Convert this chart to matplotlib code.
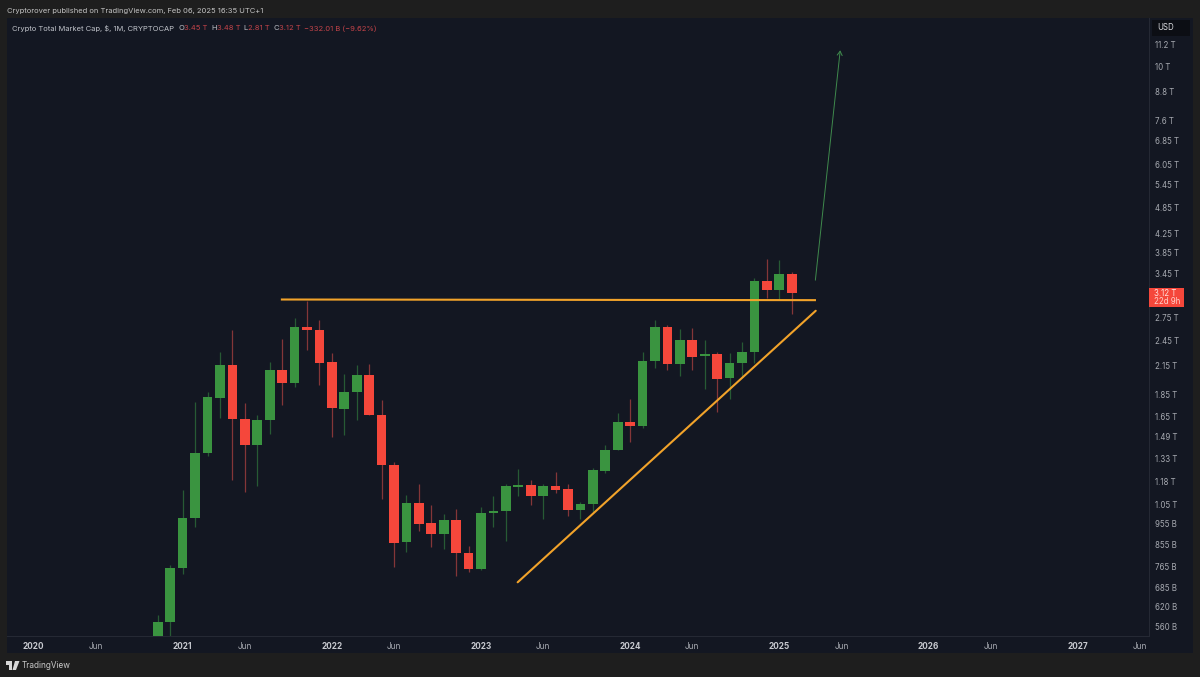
import matplotlib
matplotlib.use("Agg")
import matplotlib.pyplot as plt
from matplotlib.patches import Rectangle, Polygon

plt.rcParams['font.family'] = ['Inter', 'DejaVu Sans']

# month index: 0 = Jan 2020
months = list(range(10, 62))
opens = [0.41, 0.575, 0.758, 0.98, 1.367, 1.82, 2.153, 1.63, 1.43, 1.62, 2.096, 1.96, 2.62, 2.58, 2.19, 1.72, 1.88, 2.045,
         1.667, 1.29, 0.865, 1.057, 0.954, 0.904, 0.969, 0.82, 0.752, 1.004, 1.014, 1.149, 1.16, 1.097, 1.155, 1.137,
         1.023, 1.053, 1.25, 1.388, 1.604, 1.575, 2.2, 2.618, 2.17, 2.45, 2.252, 2.278, 2.015, 2.177, 2.30, 3.33, 3.17, 3.45]
highs = [0.596, 0.771, 1.135, 1.778, 1.871, 2.303, 2.579, 1.774, 1.662, 2.19, 2.458, 2.742, 3.0, 2.715, 2.288, 2.06, 2.153, 2.165,
         1.8, 1.305, 1.105, 1.17, 1.047, 1.0, 1.027, 0.848, 1.038, 1.099, 1.17, 1.26, 1.195, 1.166, 1.242, 1.165,
         1.064, 1.265, 1.424, 1.685, 1.808, 2.307, 2.715, 2.65, 2.6, 2.605, 2.45, 2.3, 2.288, 2.426, 3.38, 3.72, 3.698, 3.48]
lows = [0.39, 0.47, 0.734, 0.937, 1.352, 1.637, 1.191, 1.121, 1.158, 1.51, 1.755, 1.922, 2.327, 1.943, 1.49, 1.502, 1.623, 1.667,
        1.08, 0.76, 0.824, 0.916, 0.845, 0.834, 0.728, 0.742, 0.749, 0.937, 0.871, 1.099, 1.047, 0.974, 1.115, 0.989,
        0.974, 1.012, 1.235, 1.388, 1.447, 1.559, 2.117, 2.099, 2.04, 2.106, 1.9, 1.688, 1.808, 2.03, 2.173, 3.045, 3.03, 2.81]
closes = [0.575, 0.758, 0.982, 1.367, 1.824, 2.153, 1.63, 1.43, 1.62, 2.096, 1.96, 2.62, 2.58, 2.18, 1.725, 1.88, 2.045, 1.667,
          1.29, 0.863, 1.057, 0.952, 0.904, 0.969, 0.82, 0.752, 1.004, 1.014, 1.153, 1.16, 1.097, 1.155, 1.135, 1.023,
          1.055, 1.256, 1.388, 1.604, 1.575, 2.2, 2.618, 2.17, 2.45, 2.25, 2.278, 2.01, 2.177, 2.303, 3.33, 3.17, 3.45, 3.12]

resistance_x = [19.9, 62.95]
resistance_y = [3.02, 3.01]
trend_x = [38.95, 62.93]
trend_y = [0.704, 2.85]
arrow_x = [62.9, 64.9]
arrow_y = [3.336, 10.9]

y_ticks = [11.2, 10, 8.8, 7.6, 6.85, 6.05, 5.45, 4.85, 4.25, 3.85, 3.45, 2.75, 2.45, 2.15, 1.85, 1.65, 1.49, 1.33,
           1.18, 1.05, 0.955, 0.855, 0.765, 0.685, 0.62, 0.56]
y_labels = ['11.2 T', '10 T', '8.8 T', '7.6 T', '6.85 T', '6.05 T', '5.45 T', '4.85 T', '4.25 T', '3.85 T', '3.45 T',
            '2.75 T', '2.45 T', '2.15 T', '1.85 T', '1.65 T', '1.49 T', '1.33 T', '1.18 T', '1.05 T', '955 B', '855 B',
            '765 B', '685 B', '620 B', '560 B']
x_ticks = [0, 5, 12, 17, 24, 29, 36, 41, 48, 53, 60, 65, 72, 77, 84, 89]
x_labels = ['2020', 'Jun', '2021', 'Jun', '2022', 'Jun', '2023', 'Jun', '2024', 'Jun', '2025', 'Jun', '2026', 'Jun',
            '2027', 'Jun']

W, H = 1200, 677
OUTER = '#1e1e1e'
PANE = '#131722'
GREEN, RED = '#3a9440', '#f5473b'
GREEN_W, RED_W = '#275a34', '#843638'
ORANGE = '#f2a32a'
GREY = '#a6a9b0'

fig = plt.figure(figsize=(W / 100, H / 100), dpi=100, facecolor=OUTER)


def px(x0, y0, x1, y1):
    return [x0 / W, 1 - y1 / H, (x1 - x0) / W, (y1 - y0) / H]


# scale strips, under the axes
fig.patches.append(Rectangle((7 / W, 1 - 653 / H), (1193 - 7) / W, (653 - 18) / H, transform=fig.transFigure,
                             facecolor=PANE, edgecolor='none', zorder=-2))
ax = fig.add_axes(px(7, 18, 1149, 636), facecolor=PANE)
ax.set_yscale('log')
ax.set_xlim(-2.13, 89.74)
ax.set_ylim(0.5339, 12.87)
for s in ['top', 'left']:
    ax.spines[s].set_visible(False)
for s in ['bottom', 'right']:
    ax.spines[s].set_color('#252934')
    ax.spines[s].set_linewidth(0.8)

ax.yaxis.tick_right()
ax.set_yticks(y_ticks)
ax.set_yticklabels(y_labels)
ax.minorticks_off()
ax.tick_params(axis='y', length=0, pad=4.5, labelsize=5.7, labelcolor=GREY)
ax.set_xticks(x_ticks)
ax.set_xticklabels(x_labels)
ax.tick_params(axis='x', length=0, pad=4.3, labelsize=5.9, labelcolor=GREY)
for lab, t in zip(ax.get_xticklabels(), x_labels):
    if t != 'Jun':
        lab.set_fontweight('bold')
        lab.set_color('#c8cad0')

body_w = 0.78
for m, o, h, l, c in zip(months, opens, highs, lows, closes):
    up = c >= o
    ax.vlines(m, l, h, color=GREEN_W if up else RED_W, linewidth=0.9, zorder=2)
    ax.bar(m, abs(c - o), bottom=min(o, c), width=body_w, color=GREEN if up else RED, linewidth=0, zorder=3)

ax.plot(resistance_x, resistance_y, color=ORANGE, linewidth=1.5, solid_capstyle='butt', zorder=4)
ax.plot(trend_x, trend_y, color=ORANGE, linewidth=1.5, solid_capstyle='round', zorder=4)
ax.annotate('', xy=(arrow_x[1], arrow_y[1]), xytext=(arrow_x[0], arrow_y[0]),
            arrowprops=dict(arrowstyle='->,head_length=0.3,head_width=0.18', color='#3f8a4d', linewidth=0.7,
                            shrinkA=0, shrinkB=0), zorder=4)


def ftext(x, y, s, **kw):
    kw.setdefault('fontsize', 5.7)
    kw.setdefault('color', GREY)
    kw.setdefault('va', 'center')
    return fig.text(x / W, 1 - y / H, s, **kw)


# current price tag
fig.patches.append(Rectangle((1149 / W, 1 - 307.3 / H), 35 / W, 19.3 / H, transform=fig.transFigure,
                             facecolor='#f5473b', edgecolor='none', zorder=5))
ftext(1154, 293, '3.12 T', color='#ffe0dc', zorder=6)
ftext(1154, 302, '22d 9h', color='#ffd0ca', zorder=6)

# USD box
fig.patches.append(Rectangle((1152 / W, 1 - 36 / H), 38 / W, 16 / H, transform=fig.transFigure,
                             facecolor='#0c0e14', edgecolor='none', zorder=5))
ftext(1157, 28, 'USD', color='#d8d9dd', zorder=6)

# header
ftext(7, 11, 'Cryptorover published on TradingView.com, Feb 06, 2025 16:35 UTC+1', color='#c4c4c4', fontsize=5.45)
ftext(12, 28.5, 'Crypto Total Market Cap, $, 1M, CRYPTOCAP', color='#c0c3ca', fontsize=5.45)
LRED = '#c5444a'
for x, s, col in [(178.5, 'O', '#c0c3ca'), (184.5, '3.45 T', LRED), (211, 'H', '#c0c3ca'), (217, '3.48 T', LRED),
                  (243, 'L', '#c0c3ca'), (248, '2.81 T', LRED), (273, 'C', '#c0c3ca'), (279, '3.12 T', LRED),
                  (304, '−332.01 B (−9.62%)', LRED)]:
    ftext(x, 28.5, s, color=col, fontsize=5.45)

# footer logo
LOGO = '#d8d8d8'
fig.patches.append(Polygon([(6 / W, 1 - 661 / H), (12 / W, 1 - 661 / H), (12 / W, 1 - 670 / H), (9 / W, 1 - 670 / H),
                            (9 / W, 1 - 664.5 / H), (6 / W, 1 - 664.5 / H)], transform=fig.transFigure,
                           facecolor=LOGO, edgecolor='none'))
fig.patches.append(Polygon([(15 / W, 1 - 661 / H), (19.5 / W, 1 - 661 / H), (16 / W, 1 - 670 / H), (12.5 / W, 1 - 670 / H)],
                           transform=fig.transFigure, facecolor=LOGO, edgecolor='none'))
ftext(22, 666, 'TradingView', color='#c8c8c8', fontsize=5.9)

fig.savefig('out.png', dpi=100, facecolor=OUTER)
